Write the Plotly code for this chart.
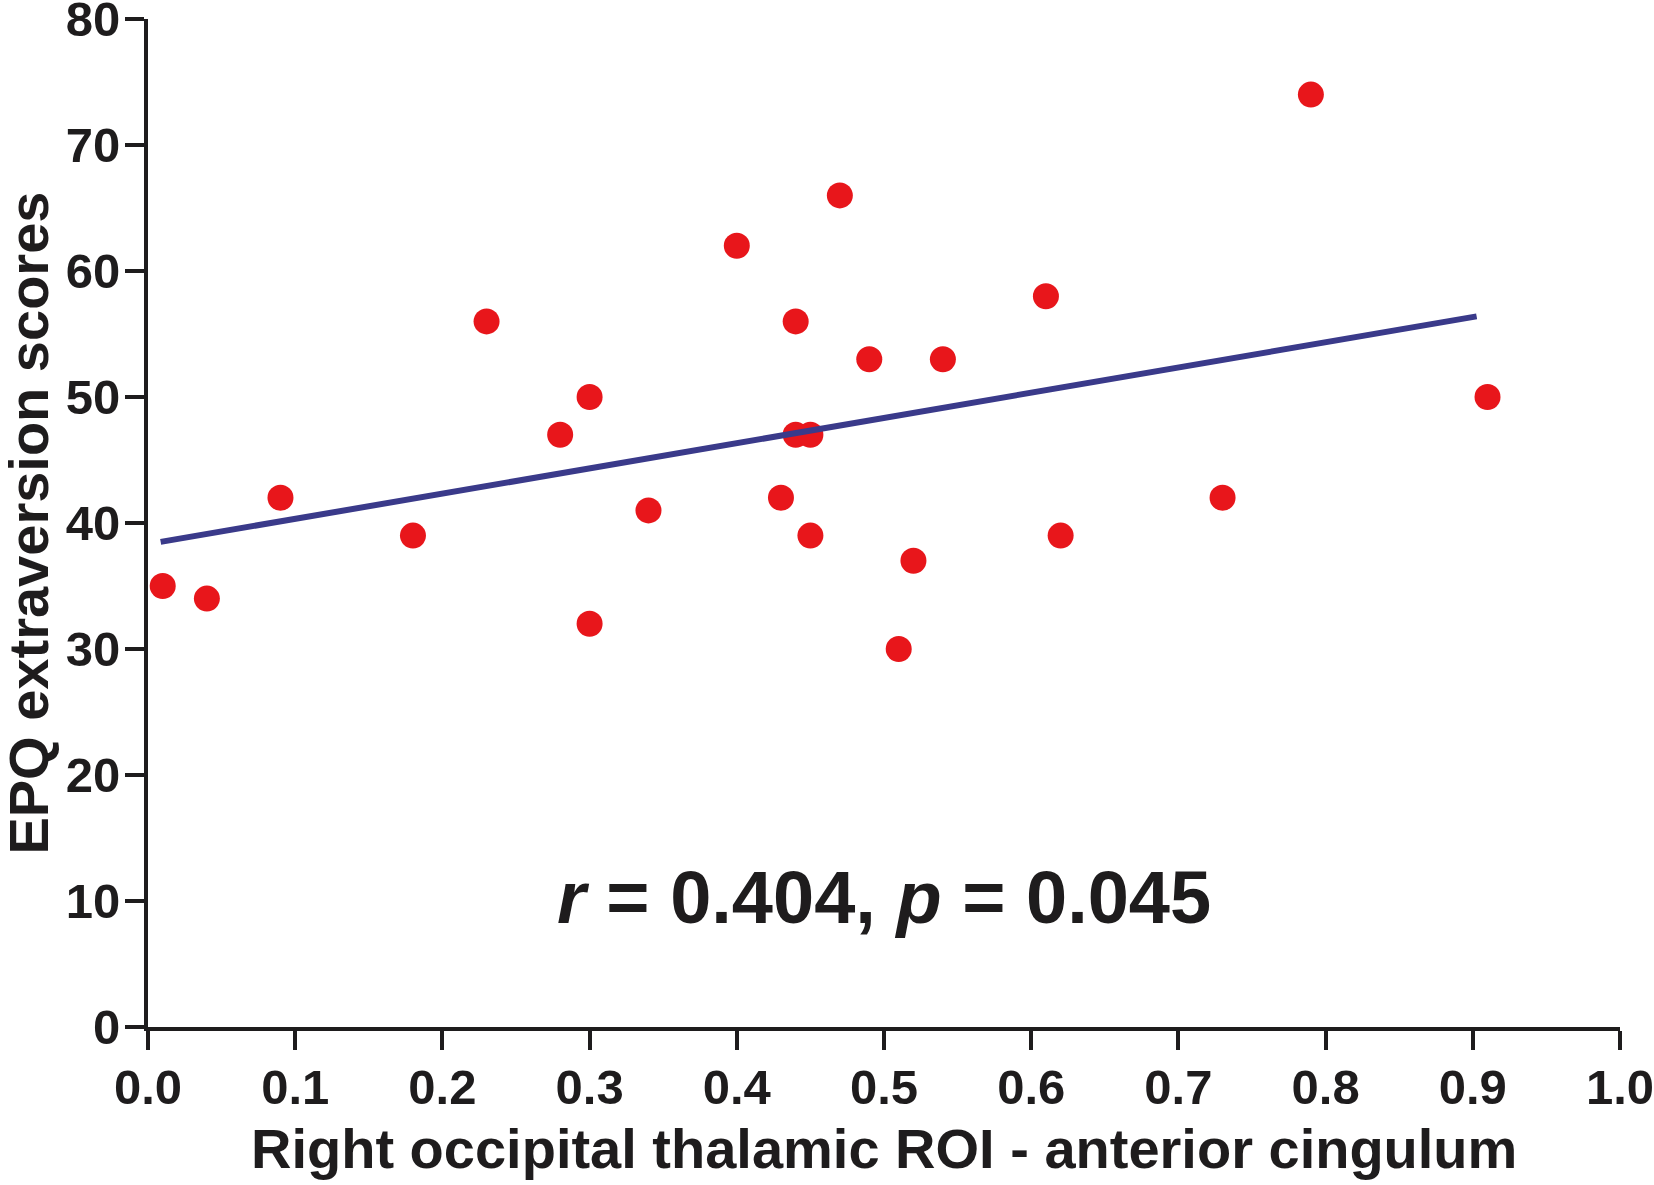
import plotly.graph_objects as go

# scatter data
roi_values = [0.01, 0.04, 0.09, 0.18, 0.23, 0.28, 0.30, 0.30, 0.34, 0.40, 0.43, 0.44, 0.44,
              0.45, 0.45, 0.47, 0.49, 0.51, 0.52, 0.54, 0.61, 0.62, 0.73, 0.79, 0.91]
epq_scores = [35, 34, 42, 39, 56, 47, 50, 32, 41, 62, 42, 56, 47,
              47, 39, 66, 53, 30, 37, 53, 58, 39, 42, 74, 50]

# regression line end points
fit_x = [0.0086, 0.9026]
fit_y = [38.5, 56.4]

x_ticks = [0.0, 0.1, 0.2, 0.3, 0.4, 0.5, 0.6, 0.7, 0.8, 0.9, 1.0]
y_ticks = [0, 10, 20, 30, 40, 50, 60, 70, 80]

ink = "#1e1c1d"
font_family = "Liberation Sans"

fig = go.Figure()

fig.add_trace(go.Scatter(
    x=roi_values, y=epq_scores,
    mode="markers",
    marker=dict(color="#e8161b", size=26, line=dict(width=0)),
    showlegend=False,
))

fig.add_trace(go.Scatter(
    x=fit_x, y=fit_y,
    mode="lines",
    line=dict(color="#3a3a8a", width=6),
    showlegend=False,
))

axis_common = dict(
    showline=True, linecolor=ink, linewidth=4,
    ticks="outside", tickcolor=ink, tickwidth=4, ticklen=19,
    showgrid=False, zeroline=False,
    automargin=False,
    ticklabeloverflow="allow",
    tickfont=dict(family=font_family, size=49, color=ink, weight="bold"),
)

fig.update_xaxes(
    range=[0, 1], tickvals=x_ticks, ticktext=[f"{v:.1f}" for v in x_ticks],
    ticklabelstandoff=-5,
    **axis_common,
)
fig.update_yaxes(
    range=[0, 80], tickvals=y_ticks,
    ticklabelstandoff=-5,
    **axis_common,
)

title_font = dict(family=font_family, size=56, color=ink, weight="bold")

# axis titles placed as annotations for exact positioning
fig.add_annotation(
    x=0.5, y=-0.121, xref="paper", yref="paper",
    text="Right occipital thalamic ROI - anterior cingulum",
    showarrow=False, xanchor="center", yanchor="middle",
    font=title_font,
)
fig.add_annotation(
    x=-0.0818, y=0.5, xref="paper", yref="paper",
    text="EPQ extraversion scores",
    showarrow=False, textangle=-90, xanchor="center", yanchor="middle",
    font=title_font,
)

fig.add_annotation(
    x=0.5, y=10.3, xref="x", yref="y",
    text="<i>r</i> = 0.404, <i>p</i> = 0.045",
    showarrow=False,
    font=dict(family=font_family, size=74, color=ink, weight="bold"),
)

fig.update_layout(
    width=1654, height=1185,
    margin=dict(l=148, r=34, t=19, b=158, autoexpand=False),
    plot_bgcolor="white", paper_bgcolor="white",
)

fig.write_html("out.html", config={"displayModeBar": False},
               post_script="document.body.style.margin='0';")
